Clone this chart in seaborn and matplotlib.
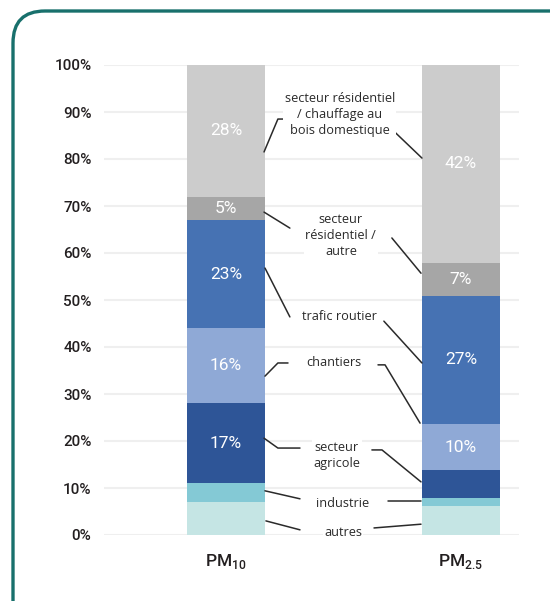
import matplotlib
matplotlib.use('Agg')
import matplotlib.pyplot as plt
import seaborn as sns
import pandas as pd
from matplotlib.patches import FancyBboxPatch

# données : part des émissions par secteur
polluants = ['PM10', 'PM2.5']
etiquettes_x = ['PM$_{\\mathregular{10}}$', 'PM$_{\\mathregular{2.5}}$']
secteurs = ['autres', 'industrie', 'secteur agricole', 'chantiers', 'trafic routier',
            'secteur résidentiel / autre', 'secteur résidentiel / chauffage au bois domestique']
pm10 = [7, 4, 17, 16, 23, 5, 28]
pm25 = [6.2, 1.7, 5.9, 9.8, 27.3, 7.0, 42.1]
textes_pm10 = ['', '', '17%', '16%', '23%', '5%', '28%']
textes_pm25 = ['', '', '', '10%', '27%', '7%', '42%']
couleurs = ['#c5e5e4', '#84c9d5', '#2e5597', '#8fa9d6', '#4672b3', '#a6a6a6', '#cccccc']
noms_labels = ['autres', 'industrie', 'secteur\nagricole', 'chantiers', 'trafic routier',
               'secteur\nrésidentiel /\nautre', 'secteur résidentiel\n/ chauffage au\nbois domestique']

sns.set_style('white')
plt.rcParams['font.family'] = ['Open Sans', 'DejaVu Sans']

fig = plt.figure(figsize=(5.5, 6.01), dpi=100)
ax = fig.add_axes([104 / 550, 1 - 535 / 601, 415 / 550, 470 / 601])

# cumul pour empiler les barres
df = pd.DataFrame({'polluant': polluants * len(secteurs),
                   'secteur': [s for s in secteurs for _ in polluants],
                   'valeur': [v for pair in zip(pm10, pm25) for v in pair]})
df['cumul'] = df.groupby('polluant')['valeur'].cumsum()

for i in reversed(range(len(secteurs))):
    sub = df[df['secteur'] == secteurs[i]]
    sns.barplot(data=sub, x='polluant', y='cumul', color=couleurs[i], width=0.33,
                saturation=1, ax=ax, zorder=2, linewidth=0)

# étiquettes dans les segments
for j, (vals, textes) in enumerate([(pm10, textes_pm10), (pm25, textes_pm25)]):
    bas = 0
    for v, t in zip(vals, textes):
        if t:
            ax.text(j, bas + v / 2, t, ha='center', va='center', color='white',
                    fontsize=12.5, family=['Roboto', 'DejaVu Sans'], zorder=4)
        bas += v

# libellés centraux et traits de rappel
positions = [(0.498, 0.6), (0.498, 6.8), (0.472, 17.0), (0.46, 36.6), (0.485, 46.4),
             (0.489, 63.8), (0.485, 89.4)]
traits = [
    [[(0.170, 3.0), (0.315, 1.1)], [(0.630, 1.5), (0.830, 2.3)]],
    [[(0.166, 9.4), (0.315, 7.7)], [(0.689, 7.2), (0.830, 7.2)]],
    [[(0.162, 20.6), (0.221, 18.5), (0.315, 18.5)], [(0.621, 18.1), (0.664, 18.1), (0.830, 11.3)]],
    [[(0.166, 33.8), (0.221, 36.6), (0.264, 36.6)], [(0.647, 36.2), (0.677, 36.2), (0.826, 23.8)]],
    [[(0.166, 56.8), (0.272, 46.4)], [(0.672, 45.5), (0.834, 36.6)]],
    [[(0.162, 68.7), (0.272, 65.3)], [(0.706, 63.2), (0.830, 55.7)]],
    [[(0.162, 81.5), (0.221, 88.5), (0.251, 88.5)], [(0.719, 85.7), (0.834, 80.2)]],
]
for nom, (px, py), lignes in zip(noms_labels, positions, traits):
    ax.text(px, py, nom, ha='center', va='center', fontsize=9.2, color='#2a2a2a',
            linespacing=1.3, zorder=5,
            bbox=dict(facecolor='white', edgecolor='none', pad=1))
    for ligne in lignes:
        xs, ys = zip(*ligne)
        ax.plot(xs, ys, color='#2a2a2a', lw=1.1, zorder=3, clip_on=False)

ax.set_ylim(0, 100)
ax.set_xlim(-0.519, 1.247)
ax.set_yticks(range(0, 101, 10))
ax.set_yticklabels([f'{v}%' for v in range(0, 101, 10)])
ax.set_xticks([0, 1])
ax.set_xticklabels(etiquettes_x)
ax.yaxis.grid(True, color='#efefef', lw=1.5, zorder=0)
ax.set_axisbelow(True)
ax.set_xlabel('')
ax.set_ylabel('')
for s in ax.spines.values():
    s.set_visible(False)
ax.tick_params(axis='y', length=0, pad=9, labelsize=11, labelcolor='#231f20')
ax.tick_params(axis='x', length=0, pad=12, labelsize=12.5, labelcolor='#231f20')
for lab in ax.get_yticklabels() + ax.get_xticklabels():
    lab.set_family(['Roboto', 'DejaVu Sans'])
    lab.set_fontweight('medium')

# cadre arrondi
cadre = FancyBboxPatch((13, -60), 600, 650, boxstyle='round,pad=0,rounding_size=32',
                       transform=None, facecolor='none', edgecolor='#18706c', lw=2.4)
fig.add_artist(cadre)

fig.savefig('out.png', dpi=100)
